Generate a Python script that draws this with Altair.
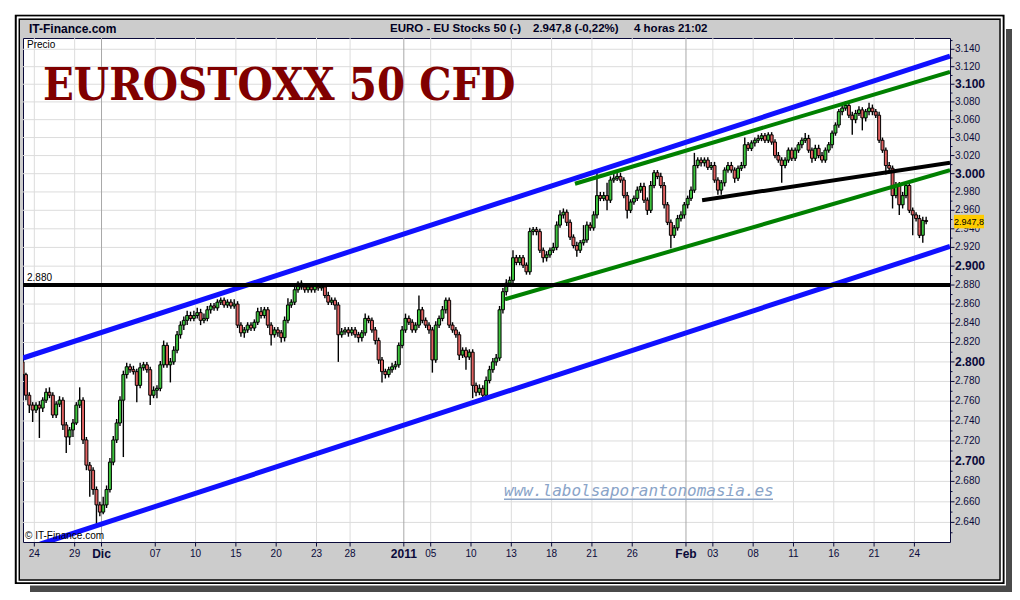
import altair as alt
import pandas as pd

# ---------------- data ----------------
FIRST_DAY = "2010-11-23"
LAST_DAY = "2011-02-24"
CANDLES_PER_DAY = 4
SHORT_DAYS = {"2010-12-24": 2}

OPEN0 = 2800
CLOSE = [
    2787, 2766, 2756, 2751, 2756, 2753, 2761, 2769, 2766, 2746,
    2757, 2761, 2736, 2724, 2731, 2738, 2756, 2761, 2721, 2696,
    2691, 2672, 2657, 2650, 2657, 2672, 2699, 2721, 2738, 2761,
    2787, 2795, 2792, 2790, 2776, 2794, 2797, 2792, 2766, 2771,
    2773, 2797, 2817, 2797, 2800, 2812, 2828, 2838, 2843, 2848,
    2845, 2848, 2851, 2843, 2845, 2854, 2858, 2856, 2862, 2864,
    2859, 2862, 2858, 2860, 2838, 2830, 2833, 2838, 2835, 2841,
    2852, 2848, 2854, 2838, 2828, 2833, 2830, 2825, 2843, 2859,
    2862, 2875, 2882, 2878, 2875, 2878, 2875, 2879, 2877, 2878,
    2869, 2862, 2864, 2859, 2828, 2831, 2833, 2830, 2833, 2828,
    2825, 2830, 2845, 2843, 2833, 2822, 2802, 2790, 2787, 2792,
    2795, 2797, 2817, 2833, 2845, 2841, 2833, 2838, 2854, 2843,
    2838, 2833, 2802, 2838, 2845, 2854, 2864, 2838, 2833, 2828,
    2807, 2812, 2805, 2810, 2776, 2769, 2773, 2766, 2781, 2792,
    2800, 2804, 2854, 2873, 2882, 2885, 2909, 2904, 2909, 2901,
    2894, 2937, 2939, 2937, 2917, 2909, 2912, 2917, 2920, 2944,
    2955, 2958, 2947, 2931, 2922, 2917, 2925, 2928, 2944, 2941,
    2955, 2976, 2973, 2976, 2971, 2993, 2995, 2997, 2993, 2976,
    2960, 2969, 2973, 2982, 2986, 2971, 2960, 2987, 3001, 2997,
    2987, 2966, 2947, 2933, 2941, 2951, 2955, 2966, 2973, 2982,
    3009, 3015, 3012, 3015, 3007, 3009, 2993, 2982, 2990, 3004,
    3009, 3004, 2995, 3006, 3009, 3032, 3028, 3034, 3037, 3039,
    3042, 3037, 3043, 3035, 3020, 3015, 3009, 3015, 3026, 3017,
    3026, 3032, 3037, 3039, 3026, 3017, 3028, 3020, 3015, 3026,
    3032, 3045, 3054, 3069, 3073, 3076, 3065, 3060, 3067, 3071,
    3062, 3069, 3073, 3069, 3065, 3037, 3026, 3009, 3006, 2976,
    2987, 2966, 2976, 2987, 2960, 2955, 2951, 2933, 2949, 2947.8,
]
HIGH = [
    2804, 2789, 2769, 2759, 2759, 2760, 2764, 2773, 2774, 2769,
    2760, 2765, 2764, 2739, 2734, 2742, 2759, 2774, 2764, 2724,
    2699, 2694, 2675, 2660, 2665, 2676, 2703, 2725, 2742, 2765,
    2791, 2799, 2798, 2796, 2793, 2799, 2800, 2800, 2795, 2775,
    2776, 2801, 2822, 2820, 2804, 2816, 2832, 2842, 2847, 2853,
    2852, 2853, 2856, 2855, 2850, 2858, 2861, 2861, 2865, 2867,
    2867, 2865, 2865, 2865, 2863, 2841, 2836, 2841, 2841, 2844,
    2856, 2857, 2857, 2857, 2841, 2836, 2836, 2833, 2847, 2866,
    2865, 2878, 2884, 2885, 2882, 2881, 2881, 2882, 2882, 2881,
    2881, 2873, 2867, 2867, 2862, 2835, 2836, 2836, 2836, 2836,
    2831, 2833, 2850, 2848, 2846, 2836, 2825, 2805, 2793, 2795,
    2799, 2801, 2820, 2837, 2850, 2848, 2844, 2841, 2869, 2857,
    2846, 2841, 2836, 2842, 2848, 2858, 2867, 2867, 2841, 2836,
    2831, 2815, 2815, 2813, 2813, 2779, 2777, 2776, 2785, 2796,
    2804, 2808, 2858, 2877, 2886, 2889, 2917, 2912, 2912, 2912,
    2904, 2941, 2942, 2942, 2940, 2920, 2916, 2920, 2925, 2948,
    2960, 2962, 2961, 2950, 2934, 2926, 2928, 2944, 2948, 2947,
    2959, 3001, 2980, 2980, 2990, 2997, 3001, 3001, 3001, 2996,
    2980, 2972, 2976, 2986, 2990, 2990, 2974, 2992, 3004, 3004,
    3001, 2991, 2969, 2950, 2944, 2955, 2959, 2969, 2976, 2986,
    3023, 3018, 3018, 3018, 3018, 3013, 3013, 2996, 2993, 3007,
    3013, 3013, 3007, 3009, 3013, 3040, 3035, 3037, 3040, 3043,
    3045, 3045, 3046, 3046, 3038, 3024, 3018, 3018, 3029, 3029,
    3029, 3035, 3040, 3045, 3043, 3029, 3032, 3032, 3024, 3029,
    3035, 3048, 3057, 3072, 3077, 3081, 3080, 3069, 3071, 3075,
    3074, 3072, 3079, 3077, 3072, 3069, 3040, 3029, 3013, 3009,
    2991, 2991, 2980, 2991, 2991, 2963, 2958, 2955, 2953, 2953,
]
LOW = [
    2783, 2761, 2748, 2739, 2748, 2723, 2749, 2758, 2763, 2743,
    2743, 2754, 2731, 2708, 2716, 2724, 2736, 2753, 2717, 2691,
    2665, 2667, 2637, 2646, 2648, 2654, 2669, 2696, 2718, 2735,
    2704, 2783, 2789, 2787, 2759, 2773, 2791, 2789, 2756, 2763,
    2763, 2770, 2794, 2794, 2779, 2797, 2809, 2824, 2833, 2838,
    2842, 2842, 2845, 2838, 2840, 2842, 2850, 2853, 2853, 2859,
    2856, 2856, 2855, 2855, 2835, 2826, 2825, 2830, 2832, 2832,
    2838, 2845, 2845, 2835, 2817, 2825, 2826, 2820, 2821, 2840,
    2856, 2859, 2872, 2875, 2872, 2872, 2872, 2872, 2874, 2874,
    2866, 2859, 2859, 2854, 2800, 2825, 2828, 2826, 2827, 2825,
    2820, 2821, 2827, 2840, 2830, 2818, 2798, 2779, 2783, 2784,
    2789, 2792, 2794, 2814, 2830, 2838, 2830, 2830, 2835, 2840,
    2835, 2829, 2789, 2799, 2835, 2842, 2850, 2835, 2830, 2825,
    2802, 2804, 2792, 2802, 2763, 2765, 2766, 2763, 2763, 2778,
    2789, 2796, 2801, 2850, 2869, 2879, 2882, 2901, 2901, 2898,
    2891, 2891, 2933, 2933, 2914, 2904, 2905, 2909, 2914, 2917,
    2941, 2951, 2943, 2928, 2919, 2910, 2914, 2922, 2925, 2938,
    2938, 2951, 2970, 2970, 2960, 2968, 2990, 2992, 2990, 2973,
    2951, 2957, 2966, 2970, 2979, 2968, 2955, 2957, 2984, 2994,
    2984, 2962, 2944, 2919, 2930, 2938, 2948, 2951, 2962, 2970,
    2979, 3006, 3008, 3008, 3004, 3004, 2990, 2977, 2977, 2986,
    3001, 3001, 2990, 2992, 3003, 3006, 3025, 3025, 3030, 3034,
    3036, 3034, 3034, 3032, 3017, 3012, 2990, 3006, 3012, 3014,
    3014, 3023, 3028, 3034, 3023, 3012, 3014, 3017, 3012, 3012,
    3023, 3028, 3042, 3051, 3065, 3070, 3062, 3043, 3056, 3064,
    3048, 3058, 3065, 3065, 3062, 3034, 3023, 2999, 3003, 2962,
    2973, 2955, 2962, 2973, 2957, 2933, 2948, 2930, 2925, 2945,
]

TICK_DAYS = ["2010-11-24", "2010-11-29", "2010-12-01", "2010-12-07", "2010-12-10",
             "2010-12-15", "2010-12-20", "2010-12-23", "2010-12-28", "2011-01-03",
             "2011-01-05", "2011-01-10", "2011-01-13", "2011-01-18", "2011-01-21",
             "2011-01-26", "2011-02-01", "2011-02-03", "2011-02-08", "2011-02-11",
             "2011-02-16", "2011-02-21", "2011-02-24"]
TICK_LABELS = ["24", "29", "Dic", "07", "10", "15", "20", "23", "28", "2011", "05", "10",
               "13", "18", "21", "26", "Feb", "03", "08", "11", "16", "21", "24"]
BOLD_LABELS = ["Dic", "2011", "Feb"]
Y_TICKS = list(range(2640, 3141, 20))
Y_MINOR = list(range(2630, 3151, 20))

# trend lines: (candle position, price) pairs
BLUE_T = [[0.625, 276.6], [5.69, 276.6]]
BLUE_P = [[2804, 3132], [2619, 2921]]
GREEN_T = [[164.95, 276.6], [144.1, 276.6]]
GREEN_P = [[2989, 3114], [2865, 3004]]
BLACK_T = [[202.8, 276.6]]
BLACK_P = [[2971, 3012]]
LEVEL = 2880
CHANGE_PCT = "-0,22%"
HEADER_LEFT = "IT-Finance.com"
HEADER_NAME = "EURO - EU Stocks 50 (-)"
HEADER_TIME = "4 horas  21:02"
TITLE = "EUROSTOXX 50 CFD"
WATERMARK = "www.labolsaporantonomasia.es"

# ---------------- build tables ----------------
days = [d.strftime("%Y-%m-%d") for d in pd.bdate_range(FIRST_DAY, LAST_DAY)]
day_start = {}
pos = 0
for d in days:
    day_start[d] = pos
    pos += SHORT_DAYS.get(d, CANDLES_PER_DAY)

n = len(CLOSE)
opens = [OPEN0] + CLOSE[:-1]
rows = []
for i in range(n):
    o, c = opens[i], CLOSE[i]
    rows.append({
        "t0": i + 0.06, "t1": i + 0.94, "tc": i + 0.5,
        "open": o, "close": c,
        "high": max(HIGH[i], o, c), "low": min(LOW[i], o, c),
    })
candles = pd.DataFrame(rows)

def seg_df(T, P):
    r = []
    for k, (ts, ps) in enumerate(zip(T, P)):
        for t, p in zip(ts, ps):
            r.append({"line": k, "t": t, "p": p})
    return pd.DataFrame(r)

def pts(v):
    return f"{v:,}".replace(",", ".")

blue_df = seg_df(BLUE_T, BLUE_P)
green_df = seg_df(GREEN_T, GREEN_P)
black_df = seg_df(BLACK_T, BLACK_P)
level_df = pd.DataFrame({"p": [LEVEL], "label": [pts(LEVEL)]})

ytab = pd.DataFrame({"p": Y_TICKS, "label": [pts(v) for v in Y_TICKS],
                     "bold": [v % 100 == 0 for v in Y_TICKS]})
ymin = pd.DataFrame({"p": Y_MINOR})
tick_t = [day_start[d] for d in TICK_DAYS]
xtab = pd.DataFrame({"t": tick_t, "label": TICK_LABELS,
                     "bold": [l in BOLD_LABELS for l in TICK_LABELS]})

last = CLOSE[-1]
last_str = f"{last:,.1f}".replace(",", "X").replace(".", ",").replace("X", ".")
last_df = pd.DataFrame({"p": [last], "label": [last_str]})
ONE = pd.DataFrame({"k": [0]})

# ---------------- scales ----------------
NAVY = "#0a0a3a"
FONT = "Liberation Sans"
xs = alt.Scale(domain=[0.625, 276.6], nice=False, zero=False)
ys = alt.Scale(type="log", domain=[2621.1, 3153.0], nice=False, zero=False)

def X(f):
    return alt.X(f, scale=xs, axis=None)

def Y(f):
    return alt.Y(f, scale=ys, axis=None)

# ---------------- grid / axes drawn as marks ----------------
ygrid = alt.Chart(ytab).mark_rule(color="#dcdcdc", strokeWidth=1).encode(y=Y("p:Q"))
xgrid_light = alt.Chart(xtab[~xtab["bold"]]).mark_rule(color="#dcdcdc", strokeWidth=1).encode(x=X("t:Q"))
xgrid_month = alt.Chart(xtab[xtab["bold"]]).mark_rule(color="#a8a8a8", strokeWidth=1).encode(x=X("t:Q"))

yticks = alt.Chart(ytab).mark_rule(color=NAVY, strokeWidth=1).encode(
    x=alt.value(927), x2=alt.value(931.5), y=Y("p:Q"))
yminor = alt.Chart(ymin).mark_rule(color=NAVY, strokeWidth=1).encode(
    x=alt.value(927), x2=alt.value(929.5), y=Y("p:Q"))
xticks = alt.Chart(xtab).mark_rule(color=NAVY, strokeWidth=1).encode(
    x=X("t:Q"), y=alt.value(504), y2=alt.value(508.5))

ylab_n = alt.Chart(ytab[~ytab["bold"]]).mark_text(
    align="left", baseline="middle", font=FONT, fontSize=10, color=NAVY).encode(
    x=alt.value(932), y=Y("p:Q"), text="label:N")
ylab_b = alt.Chart(ytab[ytab["bold"]]).mark_text(
    align="left", baseline="middle", font=FONT, fontSize=12, fontWeight="bold", color=NAVY).encode(
    x=alt.value(932), y=Y("p:Q"), text="label:N")
xlab_n = alt.Chart(xtab[~xtab["bold"]]).mark_text(
    align="center", baseline="middle", font=FONT, fontSize=10, color=NAVY).encode(
    x=X("t:Q"), y=alt.value(515.5), text="label:N")
xlab_b = alt.Chart(xtab[xtab["bold"]]).mark_text(
    align="center", baseline="middle", font=FONT, fontSize=12, fontWeight="bold", color=NAVY).encode(
    x=X("t:Q"), y=alt.value(515.5), text="label:N")

# ---------------- decoration (frame, shadow) ----------------
def deco_rect(x, x2, y, y2, **kw):
    return alt.Chart(ONE).mark_rect(**kw).encode(
        x=alt.value(x), x2=alt.value(x2), y=alt.value(y), y2=alt.value(y2))

deco = [
    deco_rect(-15, -8.2, -30, 554, color="white"),
    deco_rect(-15, 989, -30, -23.2, color="white"),
    deco_rect(981.5, 989, -30, 554, color="white"),
    deco_rect(-15, 989, 546, 554, color="white"),
    deco_rect(983, 993, -9, 557, color="#4a4a4a"),
    deco_rect(7, 993, 547.5, 557, color="#4a4a4a"),
    deco_rect(-7.2, 980.5, -22.2, 545, fill="transparent", stroke="black", strokeWidth=2),
    deco_rect(-5.3, 978.7, -20.6, 543.4, fill="transparent", stroke="white", strokeWidth=1.6),
    deco_rect(-3.7, 977, -18.7, 542, fill="transparent", stroke="black", strokeWidth=1.4),
]

def label(text, x, y, **kw):
    return alt.Chart(ONE).mark_text(text=text, **kw).encode(x=alt.value(x), y=alt.value(y))

texts_back = [
    label(HEADER_LEFT, 6, -9, align="left", baseline="middle", font=FONT, fontSize=12,
          fontWeight="bold", color="#000022"),
    label(HEADER_NAME, 367, -9, align="left", baseline="middle", font=FONT, fontSize=11.5,
          fontWeight="bold", color="#000022"),
    label(f"{last_str} ({CHANGE_PCT})", 510, -9, align="left", baseline="middle", font=FONT,
          fontSize=11.5, fontWeight="bold", color="#000022"),
    label(HEADER_TIME, 611, -9, align="left", baseline="middle", font=FONT, fontSize=11.5,
          fontWeight="bold", color="#000022"),
    label(TITLE, 20, 62, align="left", baseline="alphabetic",
          font="DejaVu Serif Condensed", fontSize=45, fontWeight="bold", color="#800000"),
]

# ---------------- candles ----------------
wick = alt.Chart(candles).mark_rule(color="black", strokeWidth=1.4, clip=True).encode(
    x=X("tc:Q"), y=Y("low:Q"), y2="high:Q")
body = alt.Chart(candles).mark_rect(stroke="black", strokeWidth=1, clip=True).encode(
    x=X("t0:Q"), x2="t1:Q", y=Y("open:Q"), y2="close:Q",
    color=alt.condition("datum.close >= datum.open", alt.value("#3cc43c"), alt.value("#e06060")),
)

def trend(df, color, width):
    return alt.Chart(df).mark_line(color=color, strokeWidth=width, clip=True, strokeCap="butt").encode(
        x=X("t:Q"), y=Y("p:Q"), detail="line:N")

level_rule = alt.Chart(level_df).mark_rule(color="black", strokeWidth=4).encode(y=Y("p:Q"))
level_text = alt.Chart(level_df).mark_text(align="left", baseline="middle", dy=-7, font=FONT,
                                           fontSize=10, color="black").encode(
    x=alt.value(4), y=Y("p:Q"), text="label:N")

texts_front = [
    label("Precio", 4, 7, align="left", baseline="middle", font=FONT, fontSize=10, color="black"),
    label("\u00a9 IT-Finance.com", 2, 498, align="left", baseline="middle", font=FONT,
          fontSize=10, color="black"),
    label(WATERMARK, 481, 458, align="left", baseline="alphabetic", font="DejaVu Sans Mono",
          fontSize=16, fontStyle="italic", color="#8aa4c8"),
    alt.Chart(ONE).mark_rule(color="#8aa4c8", strokeWidth=1.5).encode(
        x=alt.value(481), x2=alt.value(750), y=alt.value(461.3)),
]

tag_box = alt.Chart(last_df).mark_point(
    shape="M-1,-0.45H1V0.45H-1Z", size=900, filled=True, color="#ffcc00", opacity=1,
    strokeWidth=0).encode(x=alt.value(946), y=Y("p:Q"))
tag_text = alt.Chart(last_df).mark_text(align="center", baseline="middle", font=FONT,
                                        fontSize=9, color="black").encode(
    x=alt.value(946), y=Y("p:Q"), text="label:N")

chart = alt.layer(
    ygrid, xgrid_light, xgrid_month,
    *deco, *texts_back,
    wick, body,
    trend(blue_df, "#1010ff", 5), trend(green_df, "#008000", 4), trend(black_df, "black", 4),
    level_rule, level_text,
    yticks, yminor, xticks, ylab_n, ylab_b, xlab_n, xlab_b,
    *texts_front, tag_box, tag_text,
).properties(
    width=927, height=504, autosize="none",
    padding={"left": 15, "top": 30, "right": 62, "bottom": 50},
    background="#cccccc",
).configure_view(fill="white", stroke=NAVY, strokeWidth=1)

chart.save("out.html", embed_options={"renderer": "svg", "actions": False})
